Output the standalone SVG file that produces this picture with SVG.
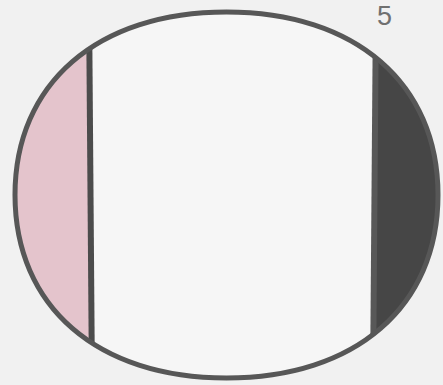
<svg xmlns="http://www.w3.org/2000/svg" width="443" height="385" viewBox="0 0 443 385">
  <style>
    .outline { fill: none; stroke: #575757; stroke-width: 5; }
    .divider { stroke: #4c4c4c; stroke-width: 6; }
    .divider-right { stroke: #585858; stroke-width: 6; }
    .label { font-family: "Liberation Sans", Arial, sans-serif; font-size: 27px; fill: #707070; font-weight: 300; }
  </style>
  <defs>
    <path id="shape" d="M 438,195 C 438,306.6 355.5,378 226.5,378 C 97.5,378 15,306.6 15,195 C 15,83.4 97.5,12 226.5,12 C 355.5,12 438,83.4 438,195 Z"/>
    <clipPath id="clip"><use href="#shape"/></clipPath>
  </defs>
  <rect width="443" height="385" fill="#f1f1f1"/>
  <g id="body">
    <use href="#shape" fill="#f6f6f6"/>
  </g>
  <g id="left-segment" clip-path="url(#clip)">
    <rect x="0" y="0" width="90" height="385" fill="#e4c4cc"/>
  </g>
  <g id="right-segment" clip-path="url(#clip)">
    <rect x="375" y="0" width="70" height="385" fill="#464646"/>
  </g>
  <g id="connectors" clip-path="url(#clip)">
    <line class="divider" x1="89" y1="0" x2="92" y2="385"/>
    <line class="divider-right" x1="376" y1="0" x2="373" y2="385"/>
  </g>
  <g id="outline">
    <use href="#shape" class="outline"/>
  </g>
  <g id="label">
    <text class="label" x="377" y="25">5</text>
  </g>
</svg>
